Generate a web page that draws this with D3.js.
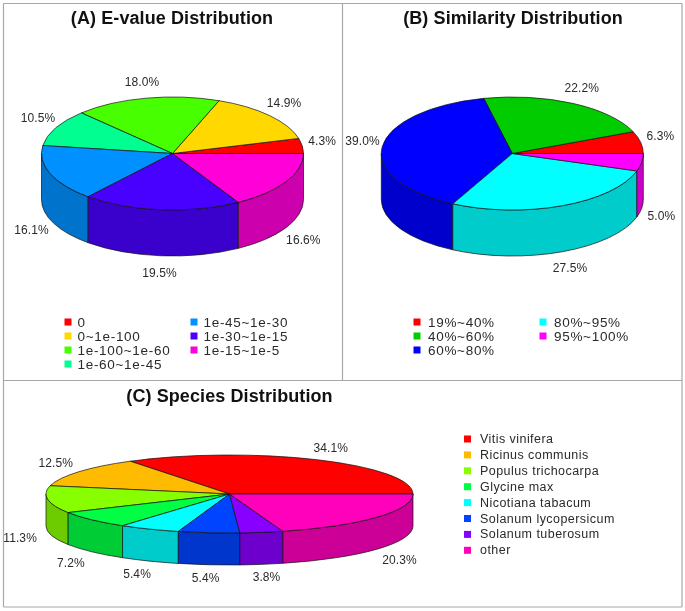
<!DOCTYPE html>
<html><head><meta charset="utf-8">
<script src="https://cdn.jsdelivr.net/npm/d3@7/dist/d3.min.js"></script>
<style>html,body{margin:0;padding:0;background:#fff}svg{display:block;filter:blur(.35px)}
text{font-family:"Liberation Sans",Arial,sans-serif;fill:#2a2a2a}</style></head>
<body><svg id="c" width="685" height="611"></svg>
<script>
const evalueCategories=["0","0~1e-100","1e-100~1e-60","1e-60~1e-45","1e-45~1e-30","1e-30~1e-15","1e-15~1e-5"];
const evalueValues=[4.3,14.9,18.0,10.5,16.1,19.5,16.6];
const evalueColors=["#ff0000","#ffd800","#48ff00","#00ff90","#0090ff","#4800ff","#ff00d8"];
const similarityCategories=["19%~40%","40%~60%","60%~80%","80%~95%","95%~100%"];
const similarityValues=[6.3,22.2,39.0,27.5,5.0];
const similarityColors=["#ff0000","#00cc00","#0000ff","#00ffff","#ff00ff"];
const speciesCategories=["Vitis vinifera","Ricinus communis","Populus trichocarpa","Glycine max","Nicotiana tabacum","Solanum lycopersicum","Solanum tuberosum","other"];
const speciesValues=[34.1,12.5,11.3,7.2,5.4,5.4,3.8,20.3];
const speciesColors=["#ff0000","#ffbb00","#88ff00","#00ff44","#00ffff","#0044ff","#8800ff","#ff00bb"];

const svg=d3.select("#c");
// panel frame
const frame=[[3.5,3.5,682,3.5],[3.5,607,682,607],[3.5,3.5,3.5,607],[682,3.5,682,607],[342.5,3.5,342.5,380.5],[3.5,380.5,682,380.5]];
svg.selectAll("line.f").data(frame).join("line").attr("class","f")
 .attr("x1",d=>d[0]).attr("y1",d=>d[1]).attr("x2",d=>d[2]).attr("y2",d=>d[3])
 .attr("stroke","#a8a8a8").attr("stroke-width",1.2);

function pie3d(o){
 const g=svg.append("g");
 const pie=d3.pie().sort(null).startAngle(0).endAngle(2*Math.PI);
 const arcs=pie(o.values);
 const pt=(a,dz=0)=>[o.cx+o.rx*Math.cos(a),o.cy-o.ry*Math.sin(a)+dz];
 const side=c=>{const k=d3.rgb(c);return d3.rgb(k.r*.8,k.g*.8,k.b*.8).formatHex();};
 const TAU=2*Math.PI,PI=Math.PI;
 // walls (only the near half, angles PI..TAU)
 arcs.forEach((d,i)=>{
  const a0=Math.max(d.startAngle,PI),a1=Math.min(d.endAngle,TAU);
  if(a1<=a0)return;
  const p0=pt(a0),p1=pt(a1),q1=pt(a1,o.depth),q0=pt(a0,o.depth);
  g.append("path").attr("d",`M${p0}A${o.rx},${o.ry} 0 0 0 ${p1}L${q1}A${o.rx},${o.ry} 0 0 1 ${q0}Z`)
   .attr("fill",side(o.colors[i])).attr("stroke","#111").attr("stroke-width",.7).attr("stroke-linejoin","round");
 });
 // top faces
 arcs.forEach((d,i)=>{
  const p0=pt(d.startAngle),p1=pt(d.endAngle),large=d.endAngle-d.startAngle>PI?1:0;
  g.append("path").attr("d",`M${o.cx},${o.cy}L${p0}A${o.rx},${o.ry} 0 ${large} 0 ${p1}Z`)
   .attr("fill",o.colors[i]).attr("stroke","#111").attr("stroke-width",.7).attr("stroke-linejoin","round");
 });
 // percentage labels
 arcs.forEach((d,i)=>{
  const m=(d.startAngle+d.endAngle)/2,s=Math.sin(m),c2=Math.cos(m)**2;
  const nudge=s<0?5*c2:-3*c2*c2;
  g.append("text").attr("x",o.cx+(o.rx+o.ldx)*Math.cos(m))
   .attr("y",o.cy-(o.ry+o.ldy)*s+(s<0?o.depth:0)+nudge)
   .attr("text-anchor","middle").attr("dominant-baseline","central")
   .attr("font-size",12).attr("letter-spacing",.1).text(d.value.toFixed(1)+"%");
 });
 // title
 svg.append("text").attr("x",o.tx).attr("y",o.ty).attr("text-anchor","middle")
  .attr("font-size",18).attr("font-weight","bold").attr("letter-spacing",.1).style("fill","#111").text(o.title);
 // legend
 o.categories.forEach((c,i)=>{
  const col=o.perCol?Math.floor(i/o.perCol):0,row=o.perCol?i%o.perCol:i;
  const x=o.lx+col*o.lcol,y=o.ly+row*o.lstep;
  svg.append("rect").attr("x",x-3.5).attr("y",y-3.5).attr("width",7).attr("height",7).attr("fill",o.colors[i]);
  svg.append("text").attr("x",x+o.lgap).attr("y",y).attr("dominant-baseline","central")
   .attr("font-size",o.lsize).attr("letter-spacing",o.lspace).text(c);
 });
}
pie3d({title:"(A) E-value Distribution",tx:172,ty:24,categories:evalueCategories,values:evalueValues,colors:evalueColors,
 cx:172.5,cy:153.5,rx:131,ry:56.5,depth:46,ldx:20,ldy:17,lx:68,ly:322,lstep:14,perCol:4,lcol:126,lgap:9.5,lsize:13.5,lspace:.7});
pie3d({title:"(B) Similarity Distribution",tx:513,ty:24,categories:similarityCategories,values:similarityValues,colors:similarityColors,
 cx:512.3,cy:153.5,rx:131,ry:56.5,depth:46,ldx:20,ldy:17,lx:417,ly:322,lstep:14,perCol:3,lcol:126,lgap:11,lsize:13.5,lspace:.7});
pie3d({title:"(C) Species Distribution",tx:229.5,ty:402,categories:speciesCategories,values:speciesValues,colors:speciesColors,
 cx:229.5,cy:494,rx:183.5,ry:39,depth:32,ldx:28,ldy:13,lx:467.5,ly:439,lstep:15.9,perCol:0,lcol:0,lgap:12.5,lsize:12.5,lspace:.45});
</script></body></html>
